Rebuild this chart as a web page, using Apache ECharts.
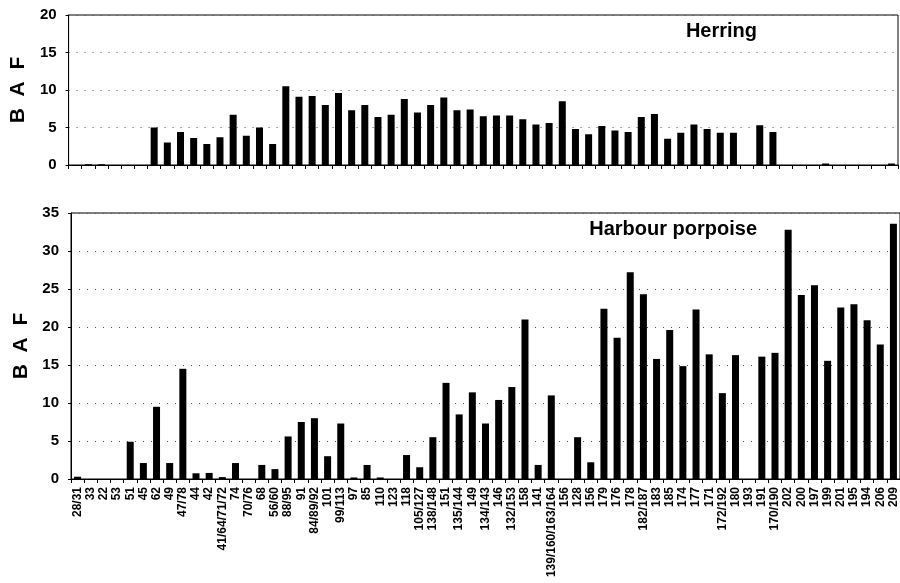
<!DOCTYPE html>
<html>
<head>
<meta charset="utf-8">
<script src="https://cdn.jsdelivr.net/npm/echarts@6/dist/echarts.min.js"></script>
<style>
  html, body { margin: 0; padding: 0; background: #fff; }
  #graph { width: 900px; height: 583px; }
</style>
</head>
<body>
<div id="graph"></div>
<script>
"use strict"

// sample groups on the x axis
const categories = ["28/31", "33", "22", "53", "51", "45", "62", "49", "47/78", "44", "42", "41/64/71/72",
    "74", "70/76", "68", "56/60", "88/95", "91", "84/89/92", "101", "99/113", "97", "85", "110", "123",
    "118", "105/127", "138/148", "151", "135/144", "149", "134/143", "146", "132/153", "158", "141",
    "139/160/163/164", "156", "128", "156", "179", "176", "178", "182/187", "183", "185", "174", "177",
    "171", "172/192", "180", "193", "191", "170/190", "202", "200", "197", "199", "201", "195", "194",
    "206", "209"];

// BAF values
const herring = [0, 0.1, 0.1, 0, 0, 0, 5.0, 3.0, 4.4, 3.6, 2.8, 3.7,
    6.7, 3.9, 5.0, 2.8, 10.5, 9.1, 9.2, 8.0, 9.6, 7.3, 8.0, 6.4, 6.7,
    8.8, 7.0, 8.0, 9.0, 7.3, 7.4, 6.5, 6.6, 6.6, 6.1, 5.4,
    5.6, 8.5, 4.8, 4.1, 5.2, 4.6, 4.4, 6.4, 6.8, 3.5, 4.3, 5.4,
    4.8, 4.3, 4.3, 0, 5.3, 4.4, 0, 0, 0, 0.2, 0, 0, 0,
    0, 0.2];

const porpoise = [0.3, 0, 0, 0, 4.9, 2.1, 9.5, 2.1, 14.5, 0.75, 0.8, 0.25,
    2.1, 0, 1.85, 1.3, 5.6, 7.5, 8.0, 3.0, 7.3, 0.2, 1.85, 0.2, 0,
    3.15, 1.55, 5.5, 12.65, 8.5, 11.4, 7.3, 10.4, 12.1, 21.0, 1.85,
    11.0, 0, 5.5, 2.2, 22.4, 18.6, 27.2, 24.3, 15.8, 19.6, 14.85, 22.3,
    16.4, 11.3, 16.3, 0, 16.1, 16.6, 32.8, 24.2, 25.5, 15.55, 22.55, 23.0, 20.9,
    17.7, 33.6];

const panelTitles = ["Herring", "Harbour porpoise"];
const yMax = [20, 35];

const font = "'Liberation Sans', Arial, sans-serif";
const gridLine = { show: true, lineStyle: { color: "#555", width: 1, type: [1, 7] } };

function xAxisFor(idx, withLabels)
{
    return {
        type: "category",
        gridIndex: idx,
        data: categories,
        axisLine: { lineStyle: { color: "#000", width: 1 } },
        axisTick: { show: true, interval: 0, length: 4, lineStyle: { color: "#000" } },
        axisLabel: withLabels ?
            { interval: 0, rotate: 90, fontSize: 12, fontWeight: "bold", color: "#000", fontFamily: font, margin: 8 } :
            { show: false }
    };
}

function yAxisFor(idx)
{
    return {
        type: "value",
        gridIndex: idx,
        min: 0,
        max: yMax[idx],
        interval: 5,
        name: "B  A  F",
        nameLocation: "middle",
        nameGap: 38,
        nameTextStyle: { fontSize: 21, fontWeight: "bold", color: "#000", fontFamily: font },
        axisLine: { show: true, lineStyle: { color: "#000", width: 1 } },
        axisTick: { show: true, length: 3, lineStyle: { color: "#000" } },
        axisLabel: { fontSize: 15, fontWeight: "bold", color: "#000", fontFamily: font, margin: 12 },
        splitLine: gridLine
    };
}

const myChart = echarts.init(document.getElementById("graph"), null, { renderer: "canvas" });

const option = {
    backgroundColor: "#fff",
    animation: false,
    title: panelTitles.map((t, i) => ({
        text: t,
        right: 138,
        top: i == 0 ? 16 : 214,
        textStyle: { fontSize: 20, fontWeight: "bold", color: "#000", fontFamily: font }
    })),
    grid: [
        { left: 68, right: 2, top: 15, height: 150, show: true, borderColor: "#000", borderWidth: 1 },
        { left: 71, right: 0, top: 213, height: 266, show: true, borderColor: "#000", borderWidth: 1 }
    ],
    xAxis: [xAxisFor(0, false), xAxisFor(1, true)],
    yAxis: [yAxisFor(0), yAxisFor(1)],
    series: [herring, porpoise].map((vals, i) => ({
        type: "bar",
        xAxisIndex: i,
        yAxisIndex: i,
        data: vals,
        barWidth: 7,
        itemStyle: { color: "#000" }
    }))
};
myChart.setOption(option);
</script>
</body>
</html>
